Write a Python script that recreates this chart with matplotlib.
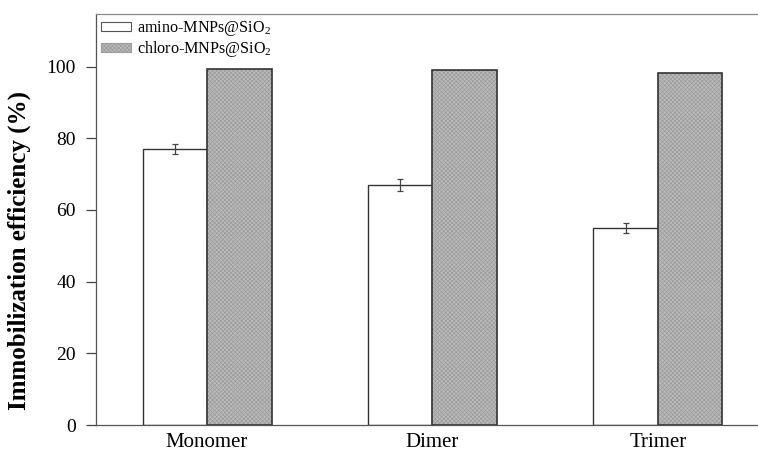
import matplotlib
matplotlib.use("Agg")
import matplotlib.pyplot as plt
import numpy as np
from matplotlib.patches import Patch

categories = ["Monomer", "Dimer", "Trimer"]
amino = [77.0, 67.0, 55.0]
amino_err = [1.4, 1.6, 1.3]
chloro = [99.3, 99.1, 98.1]
series_labels = ["amino-MNPs@SiO$_2$", "chloro-MNPs@SiO$_2$"]
yticks = [0, 20, 40, 60, 80, 100]

plt.rcParams['font.family'] = ['Liberation Serif', 'DejaVu Serif']
plt.rcParams['mathtext.fontset'] = 'custom'
plt.rcParams['mathtext.rm'] = 'Liberation Serif'
plt.rcParams['hatch.linewidth'] = 0.5

fig = plt.figure(figsize=(7.58, 4.55), dpi=100)
ax = fig.add_axes([95.5/758, (455-425)/455, 675/758, (425-13.5)/455])

x = np.arange(len(categories))
w = 0.286
edge = '#333333'
fill = '#bababa'
hatchc = '#9c9c9c'

ax.bar(x - w/2, amino, w, color='white', edgecolor=edge, linewidth=1.0, zorder=2)
ax.errorbar(x - w/2, amino, yerr=amino_err, fmt='none', ecolor='#444444',
            elinewidth=0.9, capsize=2.5, capthick=0.9, zorder=3)
ax.bar(x + w/2, chloro, w, color=fill, edgecolor=hatchc, linewidth=0,
       hatch='xxxxxxxx', zorder=2)
ax.bar(x + w/2, chloro, w, color='none', edgecolor=edge, linewidth=1.2, zorder=2.5)

ax.set_xlim(-0.495, 2.5)
ax.set_ylim(0, 114.8)
ax.set_yticks(yticks)
ax.set_yticklabels([str(t) for t in yticks], fontsize=14)
ax.set_xticks(x)
ax.set_xticklabels(categories, fontsize=15)
ax.tick_params(axis='x', length=0, pad=6)
ax.tick_params(axis='y', direction='out', length=7, width=0.9, color='#444444', pad=7)
ax.set_ylabel('Immobilization efficiency (%)', fontsize=18, fontweight='bold')
ax.yaxis.set_label_coords(-0.096, 0.425)

for s in ax.spines.values():
    s.set_color('#555555')
    s.set_linewidth(0.9)
ax.spines['top'].set_color('#888888')

h1 = Patch(facecolor='white', edgecolor='#555555', linewidth=0.8)
h2 = Patch(facecolor=fill, edgecolor=hatchc, linewidth=0.8, hatch='xxxxxxxx')
leg = ax.legend([h1, h2], series_labels, loc='upper left', frameon=False,
                fontsize=11.6, handlelength=1.85, handleheight=0.45,
                borderaxespad=0.1, borderpad=0.25, labelspacing=0.05, handletextpad=0.4)

fig.savefig('out.png', dpi=100)
